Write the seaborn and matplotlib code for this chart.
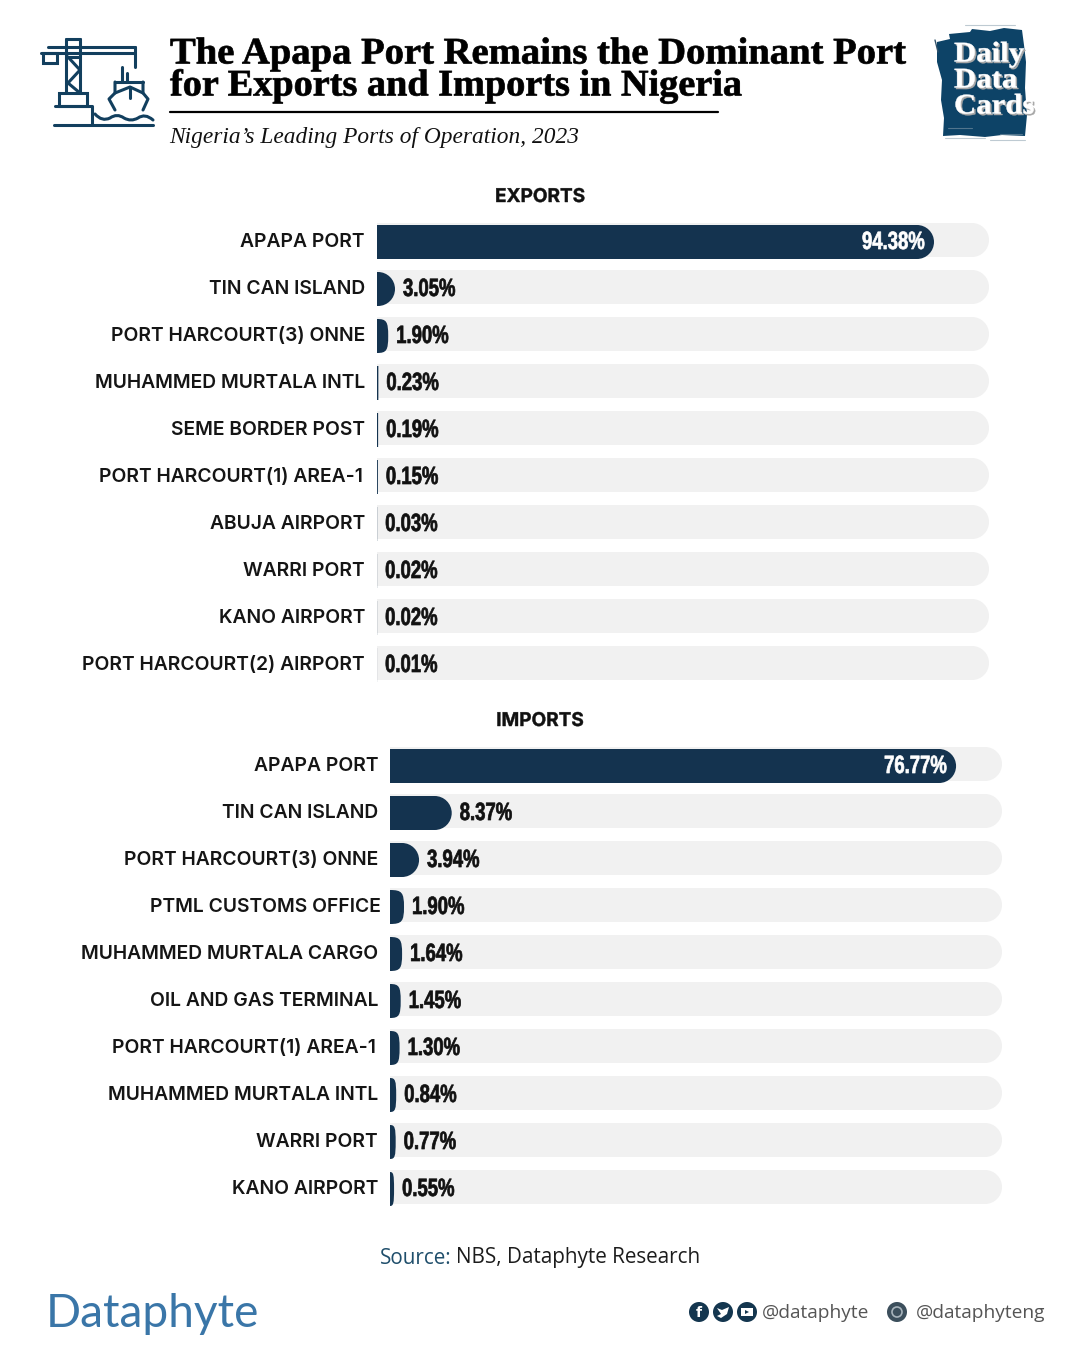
import matplotlib
matplotlib.use('Agg')
import matplotlib.pyplot as plt
import matplotlib.patheffects as pe
import pandas as pd
import seaborn as sns
from matplotlib.colors import to_rgba
from matplotlib.patches import Circle, PathPatch, Polygon, Rectangle
from matplotlib.path import Path
from matplotlib.transforms import Affine2D, ScaledTranslation

export_ports = ['APAPA PORT', 'TIN CAN ISLAND', 'PORT HARCOURT(3) ONNE', 'MUHAMMED MURTALA INTL',
                'SEME BORDER POST', 'PORT HARCOURT(1) AREA-1', 'ABUJA AIRPORT', 'WARRI PORT',
                'KANO AIRPORT', 'PORT HARCOURT(2) AIRPORT']
export_share = [94.38, 3.05, 1.90, 0.23, 0.19, 0.15, 0.03, 0.02, 0.02, 0.01]

import_ports = ['APAPA PORT', 'TIN CAN ISLAND', 'PORT HARCOURT(3) ONNE', 'PTML CUSTOMS OFFICE',
                'MUHAMMED MURTALA CARGO', 'OIL AND GAS TERMINAL', 'PORT HARCOURT(1) AREA-1',
                'MUHAMMED MURTALA INTL', 'WARRI PORT', 'KANO AIRPORT']
import_share = [76.77, 8.37, 3.94, 1.90, 1.64, 1.45, 1.30, 0.84, 0.77, 0.55]

NAVY = '#14334f'
TRACK = '#f1f1f1'
ICON = '#123f5e'
LABEL_FONT = ['Inter', 'DejaVu Sans']
VALUE_FONT = ['Liberation Sans', 'DejaVu Sans']
SERIF = ['Liberation Serif', 'DejaVu Serif']
LABEL_NUDGE = {'PTML CUSTOMS OFFICE': 3, 'PORT HARCOURT(1) AREA-1': -2}

sns.set_theme(style='white')
plt.rcParams['font.family'] = ['Open Sans', 'DejaVu Sans']


def pt(px):
    return px * 0.72


class Stretch(pe.AbstractPathEffect):
    # draws text glyphs scaled sideways, with a thin stroke to fatten them
    def __init__(self, sx=1.0, stroke=0.0, offset=(0, 0), color=None):
        self.sx, self.stroke, self.offset, self.color = sx, stroke, offset, color

    def draw_path(self, renderer, gc, tpath, affine, rgbFace=None):
        face = to_rgba(self.color) if self.color else rgbFace
        gc0 = renderer.new_gc()
        gc0.copy_properties(gc)
        gc0.set_foreground(face)
        gc0.set_linewidth(self.stroke)
        trans = Affine2D().scale(self.sx, 1) + affine + Affine2D().translate(*self.offset)
        renderer.draw_path(gc0, tpath, trans, face)
        gc0.restore()


def round_bars(ax, bars, color, px_per_unit, row_px, dy_px=0, zorder=2):
    # swap seaborn's rectangles for the same bars with a rounded right end
    for bar in bars:
        x0, y0, w, h = bar.get_x(), bar.get_y() + dy_px / row_px, bar.get_width(), bar.get_height()
        w_px = w * px_per_unit
        rx = min(w, 17 / px_per_unit) if w_px >= 3 else 0
        k = 0.5523 if w_px >= 16 else 0.85
        y1, ym = y0 + h, y0 + h / 2
        xs = x0 + w - rx
        verts = [(x0, y0), (xs, y0), (xs + k * rx, y0), (x0 + w, ym - k * h / 2), (x0 + w, ym),
                 (x0 + w, ym + k * h / 2), (xs + k * rx, y1), (xs, y1), (x0, y1), (x0, y0)]
        codes = [Path.MOVETO, Path.LINETO] + [Path.CURVE4] * 6 + [Path.LINETO, Path.CLOSEPOLY]
        ax.add_patch(PathPatch(Path(verts, codes), fc=color, ec='none', zorder=zorder, snap=False))
        bar.set_visible(False)


def panel(left, top, ports, share, track_end):
    width_px, row_px = 612, 47
    ax = fig.add_axes([left / 1080, 1 - (top + 470) / 1350, width_px / 1080, 470 / 1350])
    ax.patch.set_alpha(0)
    df = pd.DataFrame({'port': ports, 'share': share, 'track': [track_end] * len(ports)})
    sns.barplot(data=df, x='track', y='port', color=TRACK, saturation=1, width=34 / row_px, ax=ax)
    sns.barplot(data=df, x='share', y='port', color=NAVY, saturation=1, width=34 / row_px, ax=ax)
    ax.set_xlim(0, track_end)
    ax.set_ylim(9.5, -0.5)
    px_per_unit = width_px / track_end
    round_bars(ax, ax.containers[0], TRACK, px_per_unit, row_px, dy_px=-2, zorder=1)
    round_bars(ax, ax.containers[1], NAVY, px_per_unit, row_px, zorder=2)

    ax.set(xlabel='', ylabel='', xticks=[])
    ax.tick_params(axis='y', length=0, pad=pt(12))
    for label in ax.get_yticklabels():
        label.set(family=LABEL_FONT, fontsize=pt(19.3), fontweight='semibold', color='#151515')
        dx = LABEL_NUDGE.get(label.get_text(), 0)
        label.set_transform(label.get_transform() + ScaledTranslation(dx / 100, 2 / 100, fig.dpi_scale_trans))
    sns.despine(ax=ax, left=True, bottom=True)

    texts = [f'{v:.2f}%' for v in share]
    squeeze = [Stretch(sx=0.74, stroke=0.5)]
    outside = ax.bar_label(ax.containers[1], labels=[''] + texts[1:], padding=pt(8), zorder=3,
                           family=VALUE_FONT, fontsize=pt(25), fontweight='bold', color='#111111')
    inside = ax.bar_label(ax.containers[1], labels=[texts[0]] + [''] * 9, padding=-pt(72), zorder=3,
                          family=VALUE_FONT, fontsize=pt(25), fontweight='bold', color='white')
    for t in list(outside) + list(inside):
        t.set_path_effects(squeeze)
    return ax


fig = plt.figure(figsize=(10.8, 13.5), dpi=100, facecolor='white')

# pixel-space layer for header and footer
deco = fig.add_axes([0, 0, 1, 1])
deco.set_xlim(0, 1080)
deco.set_ylim(1350, 0)
deco.axis('off')

deco.text(170, 54, 'The Apapa Port Remains the Dominant Port', family=SERIF, fontweight='bold',
          fontsize=pt(37.5), color='black', va='center', path_effects=[Stretch(sx=1.03, stroke=0.5)])
deco.text(170, 86, 'for Exports and Imports in Nigeria', family=SERIF, fontweight='bold',
          fontsize=pt(37.5), color='black', va='center', path_effects=[Stretch(sx=1.02, stroke=0.5)])
deco.plot([170, 718], [112, 112], color='black', lw=1.6)
deco.text(169, 137, 'Nigeria\u2019s Leading Ports of Operation, 2023', family=SERIF, style='italic',
          fontsize=pt(23.4), color='#111111', va='center')

# crane and ship icon
lw = 2.2
for xs, ys in [([54, 153], [125, 125]), ([48, 135], [47, 47]), ([41, 135], [53, 53]), ([135, 135], [47, 67]),
               ([66, 66], [39, 93]), ([80, 80], [39, 93]), ([66, 80], [39, 39]),
               ([68, 80, 68, 80], [57, 70, 83, 93]), ([66, 80], [57, 57]),
               ([55, 92, 92], [106, 106, 125]), ([122, 122], [67, 82]), ([127, 127], [73, 82]),
               ([115, 143], [82, 82]), ([115, 115, 109, 115], [82, 93, 99, 110]),
               ([143, 143, 148, 143], [82, 93, 99, 110]), ([115, 130, 143], [93, 87, 93]), ([130, 130], [87, 98])]:
    deco.plot(xs, ys, color=ICON, lw=lw, solid_capstyle='round', solid_joinstyle='round')
deco.add_patch(Rectangle((43, 53), 14, 10, fc='none', ec=ICON, lw=lw))
deco.add_patch(Rectangle((59, 93), 28, 13, fc='none', ec=ICON, lw=lw))
wave = Path([(95, 114), (102, 122), (110, 118), (117, 113), (124, 118), (131, 122), (138, 118), (145, 113), (153, 120)],
            [Path.MOVETO] + [Path.CURVE3] * 8)
deco.add_patch(PathPatch(wave, fc='none', ec=ICON, lw=lw, capstyle='round'))

# brushed badge
deco.add_patch(Polygon([(937, 42), (950, 39), (949, 34), (970, 32), (972, 29), (990, 31), (1004, 28), (1022, 30),
                        (1024, 45), (1026, 62), (1025, 88), (1027, 115), (1025, 136), (1002, 135), (985, 137),
                        (960, 135), (943, 136), (944, 118), (941, 100), (942, 80), (937, 62)],
                       fc='#0d4367', ec='none'))
for y, x0, x1 in [(138, 945, 985), (140, 990, 1025), (25, 965, 1015), (128, 948, 972), (134, 1000, 1022)]:
    deco.plot([x0, x1], [y, y], color='#8aa0ad', lw=0.8, alpha=0.55)
deco.plot([935, 938], [40, 52], color='#33526a', lw=1)
badge_fx = [Stretch(sx=1.08, stroke=0.3, offset=(1.5, -1.5), color='#a8a8a8'), Stretch(sx=1.08, stroke=0.3)]
for y, word in [(54, 'Daily'), (80, 'Data'), (106, 'Cards')]:
    deco.text(954, y, word, family=SERIF, fontweight='bold', fontsize=pt(28.5), color='white', va='center',
              path_effects=badge_fx)

deco.text(540, 197, 'EXPORTS', family=LABEL_FONT, fontweight='bold', fontsize=pt(19), color='#111111',
          ha='center', va='center', path_effects=[Stretch(sx=1.0, stroke=0.3)])
deco.text(540, 721, 'IMPORTS', family=LABEL_FONT, fontweight='bold', fontsize=pt(19), color='#111111',
          ha='center', va='center', path_effects=[Stretch(sx=1.0, stroke=0.3)])

panel(377, 218.5, export_ports, export_share, 103.7)
panel(390, 742.5, import_ports, import_share, 83.0)

# footer
deco.text(380, 1258, 'Source:', fontsize=pt(20.7), color='#1f4e6b', va='center')
deco.text(456, 1258, 'NBS, Dataphyte Research', fontsize=pt(20.7), color='#1c1c1c', va='center')
deco.text(46, 1314, 'Dataphyte', family=['Lato', 'DejaVu Sans'], fontsize=pt(46), color='#3a76a8', va='center')
for cx in [699, 723, 747]:
    deco.add_patch(Circle((cx, 1312), 10, fc='#14364f', ec='none'))
deco.text(699, 1313, 'f', family=['DejaVu Sans'], fontsize=pt(14), fontweight='bold', color='white',
          ha='center', va='center')
deco.add_patch(Polygon([(717, 1308), (722, 1310), (729, 1307), (727, 1314), (721, 1318), (717, 1316), (721, 1314)],
                       fc='white', ec='none'))
deco.add_patch(Rectangle((741, 1308), 12, 8, fc='white', ec='none'))
deco.add_patch(Polygon([(745, 1310), (749, 1312), (745, 1314)], fc='#14364f', ec='none'))
deco.text(762, 1313, '@dataphyte', fontsize=pt(19.2), color='#555555', va='center')
deco.add_patch(Circle((897, 1312), 10, fc='#3c4f5c', ec='none'))
deco.add_patch(Circle((897, 1312), 5, fc='none', ec='#a8b4bc', lw=1.2))
deco.text(916, 1313, '@dataphyteng', fontsize=pt(19.2), color='#555555', va='center')

fig.savefig('out.png', dpi=100)
